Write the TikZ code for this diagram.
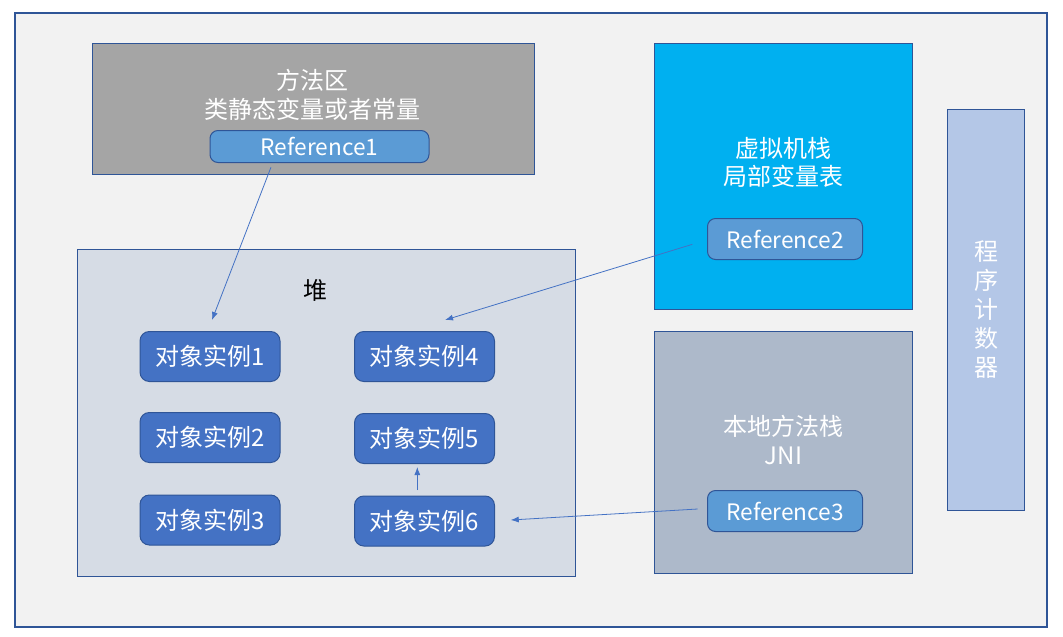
\documentclass[tikz,border=0pt]{standalone}
\usepackage{fontspec}
\setmainfont{Noto Sans CJK SC}
\usetikzlibrary{arrows.meta}
\definecolor{pagebg}{HTML}{F2F2F2}
\definecolor{edge}{HTML}{2F5597}
\definecolor{methodgray}{HTML}{A5A5A5}
\definecolor{refblue}{HTML}{5B9BD5}
\definecolor{heapbg}{HTML}{D6DCE5}
\definecolor{objblue}{HTML}{4472C4}
\definecolor{stackcyan}{HTML}{00B0F0}
\definecolor{nativegray}{HTML}{ADB9CA}
\definecolor{pcblue}{HTML}{B4C7E7}
\begin{document}
\begin{tikzpicture}[
  x=0.75pt,y=-0.75pt,
  area/.style={draw=edge,line width=0.75pt,inner sep=0pt},
  refbox/.style={draw=edge,line width=0.75pt,fill=refblue,rounded corners=6pt,
    text=white,font=\fontsize{17pt}{20pt}\selectfont},
  objbox/.style={draw=edge,line width=0.75pt,fill=objblue,rounded corners=7pt,
    minimum width=105pt,minimum height=37.5pt,text=white,font=\fontsize{18pt}{20pt}\selectfont},
  title/.style={text=white,align=center,font=\fontsize{18pt}{21.5pt}\selectfont},
  ptr/.style={draw=objblue,line width=0.6pt,-{Latex[length=6pt,width=4.5pt]}},
]
\useasboundingbox (0,0) rectangle (1063,636);
\draw[draw=edge,line width=0.9pt,fill=pagebg] (15,13) rectangle (1047,627);
% method area
\node[area,fill=methodgray,minimum width=331.5pt,minimum height=98.25pt] (method) at (313,108.5) {};
\node[title] (methodtxt) at (312,95) {方法区\\类静态变量或者常量};
\node[refbox,minimum width=164.25pt,minimum height=24pt] (ref1) at (319.5,146.5) {Reference1};
% heap
\node[area,fill=heapbg,minimum width=373.5pt,minimum height=245.25pt] (heap) at (326,412.5) {};
\node[font=\fontsize{18pt}{20pt}\selectfont] (heaptxt) at (315.5,290) {堆};
\node[objbox] (inst1) at (210,356.5) {对象实例1};
\node[objbox] (inst2) at (210,437.5) {对象实例2};
\node[objbox] (inst3) at (210,520) {对象实例3};
\node[objbox] (inst4) at (424.5,356.5) {对象实例4};
\node[objbox] (inst5) at (424.5,438.5) {对象实例5};
\node[objbox] (inst6) at (424.5,521) {对象实例6};
% stacks
\node[area,fill=stackcyan,minimum width=194pt,minimum height=199.5pt] (vmstack) at (783.5,176) {};
\node[title] (vmtxt) at (783.5,162.5) {虚拟机栈\\局部变量表};
\node[refbox,minimum width=116.25pt,minimum height=30.75pt] (ref2) at (785,239) {Reference2};
\node[area,fill=nativegray,minimum width=194pt,minimum height=181.5pt] (native) at (783.5,452.5) {};
\node[title] (nativetxt) at (783.5,440) {本地方法栈\\JNI};
\node[refbox,minimum width=116.25pt,minimum height=30.75pt] (ref3) at (785,511) {Reference3};
% program counter
\node[area,fill=pcblue,minimum width=58.25pt,minimum height=300.75pt] (pc) at (986,310) {};
\node[title,font=\fontsize{18pt}{21.75pt}\selectfont] (pctxt) at (986,310) {程\\序\\计\\数\\器};
% references
\draw[ptr] ([xshift=-36.4pt,yshift=-3.2pt]ref1.south) -- ([xshift=1.5pt,yshift=8.25pt]inst1.north);
\draw[ptr] ([xshift=-11pt,yshift=-4pt]ref2.west) -- ([xshift=15.4pt,yshift=8.25pt]inst4.north);
\draw[ptr] ([xshift=-5.4pt,yshift=4pt]inst6.north) -- ([xshift=-5.4pt,yshift=-2.25pt]inst5.south);
\draw[ptr] ([xshift=-7pt,yshift=1.5pt]ref3.west) -- ([xshift=11.8pt,yshift=0.75pt]inst6.east);
\end{tikzpicture}
\end{document}
